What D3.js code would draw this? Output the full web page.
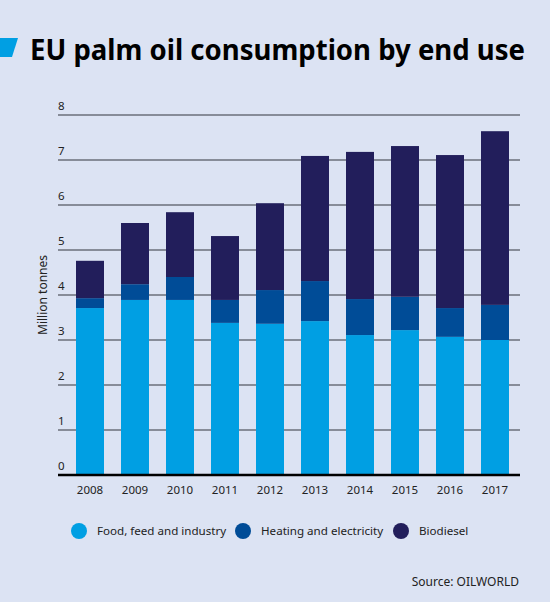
<!DOCTYPE html>
<html>
<head>
<meta charset="utf-8">
<script src="https://cdn.jsdelivr.net/npm/d3@7"></script>
<style>
  body { margin: 0; background: #dce3f3; }
  text { font-family: "Source Sans Pro", "Noto Sans", sans-serif; }
</style>
</head>
<body>
<div id="chart"></div>
<script>
const years = ["2008","2009","2010","2011","2012","2013","2014","2015","2016","2017"];
const food    = [3.71, 3.89, 3.89, 3.38, 3.36, 3.42, 3.11, 3.22, 3.07, 3.00];
const heating = [0.22, 0.35, 0.51, 0.51, 0.75, 0.89, 0.80, 0.74, 0.64, 0.78];
const biodiesel = [0.83, 1.36, 1.44, 1.42, 1.93, 2.78, 3.27, 3.35, 3.40, 3.86];
const seriesNames = ["Food, feed and industry", "Heating and electricity", "Biodiesel"];
const seriesColors = ["#009fe3", "#004c97", "#221e5b"];
const yTicks = [0,1,2,3,4,5,6,7,8];

const width = 550, height = 602;
const svg = d3.select("#chart").append("svg")
  .attr("width", width)
  .attr("height", height);

svg.append("rect").attr("width", width).attr("height", height).attr("fill", "#dce3f3");

// title + icon
svg.append("path")
  .attr("d", "M0,38 L18,38 L12,57 L0,57 Z")
  .attr("fill", "#009fe3");
svg.append("text")
  .attr("x", 30).attr("y", 60)
  .attr("font-size", 28)
  .attr("font-weight", "bold")
  .attr("fill", "#000")
  .attr("textLength", 495)
  .attr("lengthAdjust", "spacingAndGlyphs")
  .text("EU palm oil consumption by end use");

var rows = years.map(function(y, i) {
  return {year: y, food: food[i], heating: heating[i], biodiesel: biodiesel[i]};
});
var stack = d3.stack().keys(["food", "heating", "biodiesel"])(rows);

var x = d3.scaleBand()
  .domain(years)
  .range([76, 509])
  .paddingInner(17/45)
  .paddingOuter(0);

var y = d3.scaleLinear()
  .domain([0, 8])
  .range([475, 115]);

// gridlines
svg.append("g").selectAll("line")
  .data(yTicks.filter(d => d > 0))
  .enter().append("line")
  .attr("x1", 58).attr("x2", 520)
  .attr("y1", d => y(d)).attr("y2", d => y(d))
  .attr("stroke", "#6b6f7a")
  .attr("stroke-width", 1.5);

// y tick labels
svg.append("g").selectAll("text")
  .data(yTicks)
  .enter().append("text")
  .attr("x", 58)
  .attr("y", d => y(d) - 5)
  .attr("font-size", 11.5)
  .attr("fill", "#222")
  .text(d => d);

// bars
svg.append("g").selectAll("g")
  .data(stack)
  .enter().append("g")
  .attr("fill", (d, i) => seriesColors[i])
  .selectAll("rect")
  .data(d => d)
  .enter().append("rect")
  .attr("x", d => x(d.data.year))
  .attr("width", x.bandwidth())
  .attr("y", d => y(d[1]))
  .attr("height", d => y(d[0]) - y(d[1]));

// baseline
svg.append("line")
  .attr("x1", 58).attr("x2", 520)
  .attr("y1", y(0)).attr("y2", y(0))
  .attr("stroke", "#000")
  .attr("stroke-width", 2.5);

// x axis labels
svg.append("g").selectAll("text")
  .data(years)
  .enter().append("text")
  .attr("x", d => x(d) + x.bandwidth() / 2)
  .attr("y", 494)
  .attr("text-anchor", "middle")
  .attr("font-size", 11.5)
  .attr("fill", "#222")
  .text(d => d);

// y title
svg.append("text")
  .attr("transform", "translate(47,295) rotate(-90)")
  .attr("text-anchor", "middle")
  .attr("font-size", 12)
  .attr("fill", "#222")
  .text("Million tonnes");

// legend
var legendX = [79, 243, 401];
var legend = svg.append("g").selectAll("g")
  .data(seriesNames)
  .enter().append("g")
  .attr("transform", (d, i) => "translate(" + legendX[i] + ",531)");
legend.append("circle")
  .attr("r", 8)
  .attr("fill", (d, i) => seriesColors[i]);
legend.append("text")
  .attr("x", 18)
  .attr("y", 4)
  .attr("font-size", 11.6)
  .attr("fill", "#222")
  .text(d => d);

// source
svg.append("text")
  .attr("x", 519).attr("y", 586)
  .attr("text-anchor", "end")
  .attr("font-size", 12)
  .attr("fill", "#222")
  .text("Source: OILWORLD");
</script>
</body>
</html>
